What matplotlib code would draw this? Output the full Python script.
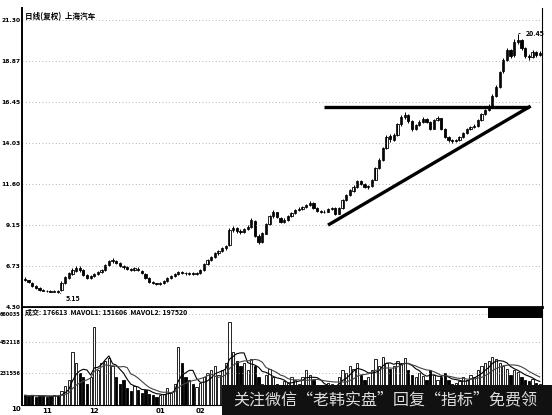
import numpy as np
import pandas as pd
import matplotlib
matplotlib.use("Agg")
import matplotlib.pyplot as plt
from matplotlib.patches import Rectangle

plt.rcParams['font.family'] = ['Noto Sans CJK SC', 'DejaVu Sans']

# DATA (daily bars, oldest first)
opens = [5.95, 5.88, 5.75, 5.55, 5.45, 5.30, 5.27, 5.22, 5.18, 5.24,
         5.30, 5.72, 6.02, 6.28, 6.45, 6.62, 6.48, 6.18, 6.00, 6.12,
         6.25, 6.35, 6.50, 6.78, 7.00, 7.05, 6.88, 6.72, 6.66, 6.55,
         6.48, 6.58, 6.45, 6.28, 6.00, 5.78, 5.70, 5.64, 5.72, 5.84,
         6.00, 6.12, 6.24, 6.38, 6.34, 6.28, 6.32, 6.24, 6.30, 6.50,
         6.84, 7.06, 7.25, 7.50, 7.60, 7.78, 7.95, 8.85, 8.98, 8.80,
         8.72, 8.92, 9.05, 9.40, 8.50, 8.15, 8.65, 9.20, 9.68, 9.90,
         9.60, 9.32, 9.46, 9.68, 9.85, 10.04, 10.10, 10.22, 10.34, 10.44,
         10.15, 9.98, 9.90, 9.94, 10.10, 10.15, 9.82, 10.18, 10.62, 10.92,
         11.20, 11.42, 11.78, 11.56, 11.40, 11.48, 11.85, 12.55, 13.00, 13.72,
         14.40, 14.22, 14.50, 15.15, 15.55, 15.66, 15.30, 14.85, 15.08, 15.26,
         15.42, 15.25, 14.86, 15.38, 15.48, 14.84, 14.36, 14.20, 14.12, 14.20,
         14.38, 14.60, 14.85, 14.96, 15.02, 15.38, 15.72, 15.98, 16.22, 16.82,
         17.35, 18.25, 18.95, 19.50, 19.20, 20.00, 20.10, 19.65, 19.18, 19.12,
         19.42, 19.22]
highs = [6.05, 5.92, 5.80, 5.62, 5.50, 5.36, 5.32, 5.28, 5.30, 5.28,
         5.82, 6.12, 6.38, 6.60, 6.72, 6.70, 6.55, 6.25, 6.20, 6.32,
         6.42, 6.55, 6.85, 7.08, 7.19, 7.10, 6.95, 6.80, 6.70, 6.62,
         6.68, 6.64, 6.50, 6.32, 6.05, 5.82, 5.75, 5.76, 5.88, 6.06,
         6.18, 6.30, 6.42, 6.44, 6.40, 6.38, 6.36, 6.36, 6.54, 6.90,
         7.15, 7.32, 7.56, 7.70, 7.85, 7.98, 8.95, 9.10, 9.05, 8.90,
         9.00, 9.15, 9.58, 9.45, 8.60, 8.75, 9.30, 9.75, 10.02, 9.95,
         9.66, 9.55, 9.75, 9.95, 10.12, 10.20, 10.30, 10.42, 10.55, 10.50,
         10.22, 10.05, 10.02, 10.18, 10.25, 10.20, 10.22, 10.70, 11.00, 11.30,
         11.50, 11.85, 11.82, 11.62, 11.55, 11.90, 12.60, 13.10, 13.80, 14.50,
         14.55, 14.60, 15.22, 15.65, 15.85, 15.72, 15.38, 15.15, 15.35, 15.55,
         15.48, 15.30, 15.45, 15.62, 15.52, 14.90, 14.45, 14.28, 14.28, 14.45,
         14.68, 14.92, 15.05, 15.12, 15.45, 15.80, 16.05, 16.30, 16.90, 17.42,
         18.30, 19.05, 19.65, 19.58, 20.15, 20.45, 20.18, 19.72, 19.30, 19.50,
         19.48, 19.45]
lows = [5.82, 5.72, 5.48, 5.38, 5.26, 5.22, 5.18, 5.16, 5.16, 5.15,
        5.26, 5.68, 5.95, 6.20, 6.38, 6.40, 6.12, 5.95, 5.96, 6.05,
        6.18, 6.30, 6.45, 6.72, 6.90, 6.82, 6.65, 6.58, 6.48, 6.42,
        6.44, 6.42, 6.25, 5.96, 5.72, 5.66, 5.60, 5.60, 5.68, 5.80,
        5.96, 6.08, 6.20, 6.26, 6.22, 6.22, 6.18, 6.20, 6.26, 6.46,
        6.78, 7.00, 7.18, 7.40, 7.55, 7.70, 7.92, 8.75, 8.70, 8.62,
        8.68, 8.85, 9.00, 8.42, 8.05, 8.10, 8.60, 9.15, 9.60, 9.55,
        9.25, 9.28, 9.40, 9.62, 9.80, 9.96, 10.02, 10.15, 10.28, 10.10,
        9.92, 9.85, 9.84, 9.90, 10.04, 9.72, 9.78, 10.12, 10.55, 10.85,
        11.12, 11.35, 11.50, 11.32, 11.30, 11.42, 11.80, 12.45, 12.95, 13.65,
        14.10, 14.15, 14.45, 15.05, 15.45, 15.22, 14.75, 14.80, 15.00, 15.20,
        15.18, 14.78, 14.82, 15.30, 14.78, 14.30, 14.10, 14.02, 14.05, 14.15,
        14.32, 14.55, 14.78, 14.88, 14.98, 15.32, 15.65, 15.90, 16.15, 16.75,
        17.28, 18.15, 18.85, 19.05, 19.12, 19.90, 19.55, 19.05, 18.95, 19.05,
        19.12, 19.15]
closes = [5.89, 5.77, 5.53, 5.42, 5.30, 5.26, 5.22, 5.20, 5.22, 5.20,
          5.75, 6.05, 6.30, 6.48, 6.60, 6.50, 6.20, 6.02, 6.13, 6.25,
          6.36, 6.48, 6.78, 7.00, 7.08, 6.90, 6.72, 6.65, 6.54, 6.48,
          6.60, 6.48, 6.30, 6.01, 5.77, 5.71, 5.65, 5.71, 5.83, 6.01,
          6.13, 6.25, 6.36, 6.33, 6.30, 6.30, 6.25, 6.30, 6.48, 6.84,
          7.08, 7.25, 7.49, 7.60, 7.78, 7.90, 8.85, 8.97, 8.80, 8.73,
          8.91, 9.03, 9.45, 8.50, 8.15, 8.67, 9.21, 9.68, 9.92, 9.62,
          9.33, 9.45, 9.68, 9.86, 10.04, 10.10, 10.22, 10.34, 10.45, 10.16,
          9.98, 9.92, 9.92, 10.10, 10.16, 9.80, 10.16, 10.63, 10.93, 11.22,
          11.40, 11.76, 11.58, 11.40, 11.46, 11.82, 12.53, 13.00, 13.71, 14.37,
          14.25, 14.48, 15.14, 15.55, 15.67, 15.31, 14.84, 15.08, 15.25, 15.43,
          15.25, 14.84, 15.37, 15.49, 14.84, 14.37, 14.19, 14.13, 14.19, 14.37,
          14.60, 14.84, 14.96, 15.02, 15.37, 15.73, 15.97, 16.20, 16.80, 17.33,
          18.22, 18.93, 19.52, 19.17, 20.00, 20.11, 19.64, 19.17, 19.11, 19.40,
          19.23, 19.35]
volumes = [70000, 65000, 72000, 60000, 68000, 62000, 58000, 66000, 70000, 64000,
           100000, 140000, 180000, 380000, 300000, 230000, 200000, 150000, 200000, 560000,
           250000, 300000, 320000, 340000, 280000, 200000, 150000, 180000, 120000, 100000,
           140000, 110000, 90000, 110000, 80000, 70000, 60000, 75000, 80000, 120000,
           90000, 150000, 420000, 300000, 200000, 180000, 150000, 130000, 160000, 200000,
           230000, 250000, 280000, 220000, 250000, 300000, 600000, 380000, 320000, 280000,
           300000, 250000, 330000, 280000, 200000, 150000, 220000, 260000, 200000, 150000,
           120000, 170000, 160000, 200000, 180000, 150000, 200000, 250000, 220000, 180000,
           140000, 120000, 110000, 160000, 150000, 130000, 200000, 250000, 230000, 280000,
           260000, 300000, 220000, 180000, 200000, 250000, 330000, 280000, 350000, 300000,
           260000, 280000, 320000, 300000, 340000, 250000, 220000, 200000, 230000, 210000,
           180000, 250000, 220000, 180000, 200000, 230000, 180000, 150000, 160000, 170000,
           200000, 180000, 220000, 200000, 250000, 280000, 300000, 320000, 350000, 330000,
           300000, 280000, 260000, 220000, 250000, 240000, 200000, 180000, 170000, 190000,
           160000, 150000]

price_ticks = [21.30, 18.87, 16.45, 14.03, 11.60, 9.15, 6.73, 4.30]
price_labels = ["21.30", "18.87", "16.45", "14.03", "11.60", "9.15", "6.73", "4.30"]
vol_ticks = [660035, 452118, 231556]
vol_labels = ["660035", "452118", "231556"]
month_pos = [6, 19, 37, 48, 66, 88, 108, 128]
month_labels = ["11", "12", "01", "02", "03", "04", "05", "06"]

# trend lines drawn on the chart (bar index, price)
top_line_x = [82, 138]
top_line_y = [16.14, 16.14]
rise_line_x = [83, 138.5]
rise_line_y = [9.15, 16.20]

title = "日线(复权)  上海汽车"
vol_header = "成交: 176613  MAVOL1: 151606  MAVOL2: 197520"
watermark = "关注微信“老韩实盘”回复“指标”免费领"

df = pd.DataFrame({"o": opens, "h": highs, "l": lows, "c": closes, "v": volumes})
df["ma1"] = df["v"].rolling(5, min_periods=1).mean()
df["ma2"] = df["v"].rolling(10, min_periods=1).mean()
idx = np.arange(len(df))
up = df["c"] >= df["o"]

W, H = 552, 415
def box(x0, y0, x1, y1):
    return [x0 / W, 1 - y1 / H, (x1 - x0) / W, (y1 - y0) / H]

fig = plt.figure(figsize=(W / 100, H / 100), dpi=100)
ax = fig.add_axes(box(22, 8, 542, 307))
axv = fig.add_axes(box(22, 308, 542, 405), sharex=ax)

# candles
ax.vlines(idx, df["l"], df["h"], color="black", lw=0.7)
body_b = np.minimum(df["o"], df["c"])
body_h = np.maximum(np.abs(df["c"] - df["o"]), 0.03)
ax.bar(idx[up], body_h[up], bottom=body_b[up], width=0.62,
       facecolor="white", edgecolor="black", lw=0.6)
ax.bar(idx[~up], body_h[~up], bottom=body_b[~up], width=0.62,
       facecolor="black", edgecolor="black", lw=0.6)

ax.plot(top_line_x, top_line_y, color="black", lw=2.4, solid_capstyle="butt")
ax.plot(rise_line_x, rise_line_y, color="black", lw=2.4, solid_capstyle="butt")

lo_i = int(np.argmin(df["l"]))
hi_i = int(np.argmax(df["h"]))
ax.annotate("5.15", xy=(lo_i, df["l"][lo_i]), xytext=(6, -4), textcoords="offset points",
            fontsize=5, fontweight="bold", va="center",
            arrowprops=dict(arrowstyle="-", color="black", lw=0.6))
ax.annotate("20.45", xy=(hi_i - 0.5, df["h"][hi_i] + 0.05), xytext=(7, 0), textcoords="offset points",
            fontsize=5, fontweight="bold", va="center",
            arrowprops=dict(arrowstyle="-", color="black", lw=0.6))

ax.set_xlim(-0.8, 141.6)
ax.set_ylim(4.30, 22.01)
ax.set_yticks(price_ticks)
ax.set_yticklabels(price_labels, fontsize=4.3, fontweight="bold", family="DejaVu Sans")
ax.tick_params(axis="y", length=0, pad=1)
ax.tick_params(axis="x", length=0, labelbottom=False)
ax.grid(axis="y", color="#999999", lw=0.6, ls=(0, (1, 3)))
ax.spines["top"].set_visible(False)
ax.spines["left"].set_linewidth(1.4)
ax.spines["bottom"].set_linewidth(2.0)
ax.spines["right"].set_linewidth(0.8)
ax.text(0.005, 0.985, title, transform=ax.transAxes, fontsize=5.5, fontweight="bold", va="top")

# volume
axv.bar(idx[up], df["v"][up], width=0.62, facecolor="white", edgecolor="black", lw=0.6)
axv.bar(idx[~up], df["v"][~up], width=0.62, facecolor="black", edgecolor="black", lw=0.6)
axv.plot(idx, df["ma1"], color="black", lw=0.8)
axv.plot(idx, df["ma2"], color="#444444", lw=0.8)
axv.set_ylim(0, 700000)
axv.set_yticks(vol_ticks)
axv.set_yticklabels(vol_labels, fontsize=3.6, fontweight="bold", family="DejaVu Sans")
axv.tick_params(axis="y", length=0, pad=1)
axv.set_xticks(month_pos)
axv.set_xticklabels(month_labels, fontsize=5, fontweight="bold", family="DejaVu Sans")
axv.tick_params(axis="x", length=0, pad=2)
axv.grid(axis="y", color="#999999", lw=0.6, ls=(0, (1, 3)))
axv.spines["top"].set_visible(False)
axv.spines["left"].set_linewidth(1.4)
axv.spines["right"].set_linewidth(0.8)
axv.text(0.005, 0.99, vol_header, transform=axv.transAxes, fontsize=5, fontweight="bold", va="top")
fig.text(16 / W, 1 - 409 / H, "10", fontsize=5, fontweight="bold", ha="center", va="center",
         family="DejaVu Sans")

# black block at right of volume header and watermark box
fig.patches.append(Rectangle((488 / W, 1 - 318 / H), 54 / W, 10 / H, transform=fig.transFigure,
                             facecolor="black", edgecolor="none"))
fig.patches.append(Rectangle((222 / W, 0), 330 / W, 30 / H, transform=fig.transFigure,
                             facecolor="#111111", edgecolor="none", zorder=10))
fig.text(233 / W, 1 - 400 / H, watermark, fontsize=11.5, color="#dddddd", va="center", zorder=11)

fig.savefig("out.png", dpi=100)
